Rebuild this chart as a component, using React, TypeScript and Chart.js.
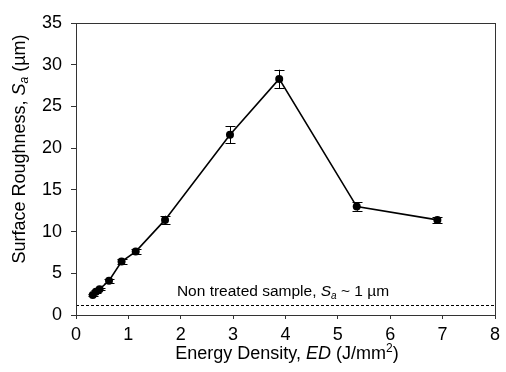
import React, { useEffect, useRef } from "react";
import { Chart, registerables } from "chart.js";

Chart.register(...registerables);

const ED = [0.32, 0.38, 0.45, 0.63, 0.87, 1.14, 1.7, 2.94, 3.88, 5.36, 6.9];
const SA = [2.4, 2.8, 3.1, 4.1, 6.4, 7.6, 11.4, 21.6, 28.3, 13.0, 11.4];
const SA_ERR = [0.15, 0.15, 0.15, 0.25, 0.3, 0.3, 0.5, 1.0, 1.1, 0.5, 0.4];
const NON_TREATED = 1.2;
const X_TICKS = [0, 1, 2, 3, 4, 5, 6, 7, 8];
const Y_TICKS = [0, 5, 10, 15, 20, 25, 30, 35];

const FAMILY = "'Liberation Sans', Arial, sans-serif";

type Run = { t: string; size: number; italic?: boolean; dy?: number };

function drawRuns(ctx: CanvasRenderingContext2D, runs: Run[], cx: number, cy: number) {
  const font = (r: Run) => `${r.italic ? "italic " : ""}${r.size}px ${FAMILY}`;
  let total = 0;
  for (const r of runs) {
    ctx.font = font(r);
    total += ctx.measureText(r.t).width;
  }
  let x = cx - total / 2;
  ctx.textBaseline = "middle";
  ctx.textAlign = "left";
  for (const r of runs) {
    ctx.font = font(r);
    ctx.fillText(r.t, x, cy + (r.dy || 0));
    x += ctx.measureText(r.t).width;
  }
}

const decorPlugin = {
  id: "decor",
  beforeDatasetsDraw(chart: any) {
    const { ctx, chartArea: a, scales } = chart;
    const y = Math.round(scales.y.getPixelForValue(NON_TREATED)) + 0.5;
    ctx.save();
    ctx.strokeStyle = "#000";
    ctx.lineWidth = 1;
    ctx.setLineDash([3, 2]);
    ctx.beginPath();
    ctx.moveTo(a.left, y);
    ctx.lineTo(a.right, y);
    ctx.stroke();
    ctx.restore();
  },
  afterDatasetsDraw(chart: any) {
    const { ctx, scales } = chart;
    ctx.save();
    ctx.strokeStyle = "#000";
    ctx.lineWidth = 1;
    for (let i = 0; i < ED.length; i++) {
      const x = Math.round(scales.x.getPixelForValue(ED[i])) + 0.5;
      const yt = scales.y.getPixelForValue(SA[i] + SA_ERR[i]);
      const yb = scales.y.getPixelForValue(SA[i] - SA_ERR[i]);
      ctx.beginPath();
      ctx.moveTo(x, yt);
      ctx.lineTo(x, yb);
      ctx.moveTo(x - 5, Math.round(yt) + 0.5);
      ctx.lineTo(x + 5, Math.round(yt) + 0.5);
      ctx.moveTo(x - 5, Math.round(yb) + 0.5);
      ctx.lineTo(x + 5, Math.round(yb) + 0.5);
      ctx.stroke();
    }
    ctx.restore();
  },
  afterDraw(chart: any) {
    const { ctx, chartArea: a } = chart;
    ctx.save();
    ctx.strokeStyle = "#333";
    ctx.lineWidth = 1;
    ctx.strokeRect(Math.round(a.left) + 0.5, Math.round(a.top) + 0.5, Math.round(a.right - a.left), Math.round(a.bottom - a.top));
    ctx.fillStyle = "#000";
    // annotation
    drawRuns(
      ctx,
      [
        { t: "Non treated sample, ", size: 15.5 },
        { t: "S", size: 15.5, italic: true },
        { t: "a", size: 10, italic: true, dy: 4 },
        { t: " ~ 1 µm", size: 15.5 },
      ],
      283,
      292
    );
    // x title
    drawRuns(
      ctx,
      [
        { t: "Energy Density, ", size: 18 },
        { t: "ED", size: 18, italic: true },
        { t: " (J/mm", size: 18 },
        { t: "2", size: 12, dy: -5 },
        { t: ")", size: 18 },
      ],
      287,
      354
    );
    // y title
    ctx.translate(20, 149);
    ctx.rotate(-Math.PI / 2);
    drawRuns(
      ctx,
      [
        { t: "Surface Roughness, ", size: 18 },
        { t: "S", size: 18, italic: true },
        { t: "a", size: 12, italic: true, dy: 5 },
        { t: " (µm)", size: 18 },
      ],
      0,
      0
    );
    ctx.restore();
  },
};

export default function App() {
  const ref = useRef<HTMLCanvasElement>(null);
  useEffect(() => {
    if (!ref.current) return;
    const chart = new Chart(ref.current, {
      type: "scatter",
      data: {
        datasets: [
          {
            data: ED.map((x, i) => ({ x, y: SA[i] })),
            showLine: true,
            borderColor: "#000",
            borderWidth: 1.6,
            backgroundColor: "#000",
            pointRadius: 4,
            pointBorderWidth: 0,
            pointBackgroundColor: "#000",
          },
        ],
      },
      options: {
        animation: false,
        responsive: false,
        devicePixelRatio: 1,
        layout: { padding: { top: 23, right: 11, left: 0, bottom: 0 } },
        plugins: { legend: { display: false }, tooltip: { enabled: false } },
        scales: {
          x: {
            type: "linear",
            min: 0,
            max: 8,
            afterFit: (s: any) => {
              s.height = 57;
            },
            afterBuildTicks: (s: any) => {
              s.ticks = X_TICKS.map((v) => ({ value: v }));
            },
            ticks: {
              color: "#000",
              font: { family: FAMILY, size: 18 },
              padding: 5,
              maxRotation: 0,
            },
            grid: { drawOnChartArea: false, drawTicks: true, tickLength: 4, color: "#333" },
            border: { display: true, color: "#333", width: 1 },
          },
          y: {
            type: "linear",
            min: 0,
            max: 35,
            afterFit: (s: any) => {
              s.width = 76;
            },
            afterBuildTicks: (s: any) => {
              s.ticks = Y_TICKS.map((v) => ({ value: v }));
            },
            ticks: {
              color: "#000",
              font: { family: FAMILY, size: 18 },
              padding: 9,
            },
            grid: { drawOnChartArea: false, drawTicks: true, tickLength: 5, color: "#333" },
            border: { display: true, color: "#333", width: 1 },
          },
        },
      },
      plugins: [decorPlugin],
    } as any);
    return () => chart.destroy();
  }, []);
  return (
    <div style={{ position: "absolute", left: 0, top: 0, width: 506, height: 372, background: "#fff" }}>
      <canvas ref={ref} width={506} height={372} />
    </div>
  );
}
